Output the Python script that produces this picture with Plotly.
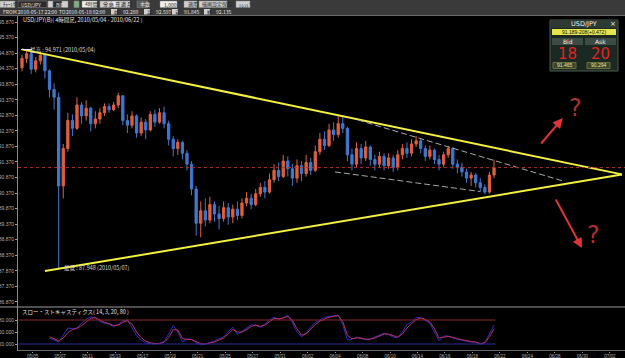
import plotly.graph_objects as go

# ---------------- data ----------------
bars = list(range(104))
opens = [94.40, 94.70, 94.85, 94.35, 94.62, 94.80, 94.30, 93.70, 93.45, 90.60,
         91.80, 92.70, 92.45, 93.20, 92.85, 93.10, 92.60, 92.75, 92.95, 93.15,
         93.05, 93.20, 93.50, 92.70, 92.55, 92.85, 92.30, 92.65, 92.40, 92.90,
         92.65, 92.95, 92.60, 92.10, 91.80, 92.00, 91.65, 91.30, 90.50, 89.40,
         89.80, 89.50, 90.00, 89.70, 89.55, 89.90, 89.60, 89.85, 89.65, 90.05,
         90.20, 90.00, 90.35, 90.55, 90.40, 90.80, 91.10, 90.90, 91.40, 91.15,
         90.85, 91.25, 91.00, 91.35, 91.10, 91.70, 92.10, 91.90, 92.40, 92.25,
         92.60, 92.45, 91.60, 91.30, 91.80, 91.50, 91.85, 91.45, 91.30, 91.55,
         91.25, 91.50, 91.20, 91.60, 91.80, 91.65, 91.95, 92.05, 91.80, 91.55,
         91.75, 91.45, 91.30, 91.60, 91.80, 91.30, 91.20, 91.05, 90.85, 90.95,
         90.70, 90.55, 90.40, 90.95]
highs = [94.82, 94.97, 94.90, 94.75, 94.92, 94.85, 94.35, 93.90, 93.60, 91.95,
         92.95, 92.90, 93.45, 93.30, 93.35, 93.15, 93.00, 93.10, 93.25, 93.25,
         93.30, 93.60, 93.50, 92.90, 93.00, 92.90, 92.80, 92.75, 93.00, 93.05,
         93.10, 93.15, 92.70, 92.20, 92.10, 92.05, 91.75, 91.40, 90.60, 90.10,
         90.20, 90.25, 90.10, 89.95, 90.10, 90.05, 90.00, 90.10, 90.20, 90.40,
         90.35, 90.50, 90.70, 90.75, 91.00, 91.30, 91.35, 91.60, 91.55, 91.30,
         91.45, 91.40, 91.60, 91.50, 91.90, 92.30, 92.35, 92.60, 92.65, 92.85,
         92.85, 92.50, 91.80, 92.00, 91.95, 92.05, 91.90, 91.60, 91.70, 91.65,
         91.65, 91.60, 91.75, 91.95, 92.00, 92.10, 92.20, 92.12, 91.90, 91.90,
         91.80, 91.60, 91.70, 91.88, 91.85, 91.45, 91.35, 91.15, 91.05, 91.00,
         90.85, 90.65, 91.05, 91.45]
lows = [94.28, 94.55, 94.20, 94.25, 94.50, 94.05, 93.45, 93.05, 87.95, 90.20,
        91.70, 92.20, 92.40, 92.60, 92.70, 92.35, 92.45, 92.60, 92.85, 92.95,
        93.00, 93.10, 92.55, 92.30, 92.45, 92.15, 92.20, 92.10, 92.35, 92.50,
        92.60, 92.45, 91.90, 91.55, 91.60, 91.45, 91.10, 90.30, 89.00, 88.95,
        89.30, 89.40, 89.45, 89.20, 89.45, 89.35, 89.40, 89.50, 89.55, 89.95,
        89.85, 89.95, 90.25, 90.20, 90.35, 90.70, 90.75, 90.85, 90.90, 90.60,
        90.70, 90.75, 90.90, 90.95, 91.05, 91.60, 91.75, 91.85, 92.05, 92.15,
        92.30, 91.40, 91.10, 91.20, 91.30, 91.40, 91.25, 91.10, 91.20, 91.10,
        91.15, 91.05, 91.10, 91.45, 91.50, 91.55, 91.85, 91.65, 91.40, 91.45,
        91.30, 91.10, 91.20, 91.50, 91.15, 91.00, 90.90, 90.70, 90.60, 90.55,
        90.40, 90.33, 90.35, 90.85]
closes = [94.70, 94.85, 94.35, 94.62, 94.80, 94.30, 93.70, 93.45, 90.60, 91.80,
          92.70, 92.45, 93.20, 92.85, 93.10, 92.60, 92.75, 92.95, 93.15, 93.05,
          93.20, 93.50, 92.70, 92.55, 92.85, 92.30, 92.65, 92.40, 92.90, 92.65,
          92.95, 92.60, 92.10, 91.80, 92.00, 91.65, 91.30, 90.50, 89.40, 89.80,
          89.50, 90.00, 89.70, 89.55, 89.90, 89.60, 89.85, 89.65, 90.05, 90.20,
          90.00, 90.35, 90.55, 90.40, 90.80, 91.10, 90.90, 91.40, 91.15, 90.85,
          91.25, 91.00, 91.35, 91.10, 91.70, 92.10, 91.90, 92.40, 92.25, 92.60,
          92.45, 91.60, 91.30, 91.80, 91.50, 91.85, 91.45, 91.30, 91.55, 91.25,
          91.50, 91.20, 91.60, 91.80, 91.65, 91.95, 92.05, 91.80, 91.55, 91.75,
          91.45, 91.30, 91.60, 91.80, 91.30, 91.20, 91.05, 90.85, 90.95, 90.70,
          90.55, 90.40, 90.95, 91.19]

stoch_bars = bars[6:]
stoch_k = [35, 30, 25, 42, 60, 58, 60, 72, 82, 88,
           85, 76, 72, 70, 63, 70, 78, 80, 62, 42,
           30, 23, 21, 20, 22, 26, 45, 66, 50, 26,
           33, 32, 23, 18, 20, 23, 27, 33, 38, 50,
           62, 44, 52, 60, 68, 67, 62, 70, 80, 87,
           81, 86, 92, 74, 50, 38, 48, 62, 74, 80,
           86, 89, 90, 92, 68, 30, 32, 37, 34, 30,
           33, 37, 42, 47, 44, 37, 36, 50, 68, 75,
           86, 86, 80, 72, 50, 28, 40, 40, 35, 32,
           30, 27, 25, 25, 19, 24, 45, 67]
stoch_d = [38, 33, 28, 35, 48, 56, 59, 66, 76, 84,
           86, 80, 74, 71, 66, 67, 74, 78, 70, 50,
           36, 27, 23, 21, 21, 24, 36, 56, 55, 34,
           31, 31, 26, 21, 20, 22, 25, 30, 35, 45,
           56, 50, 50, 56, 64, 67, 64, 67, 76, 84,
           83, 85, 89, 79, 58, 42, 45, 56, 69, 77,
           83, 87, 89, 91, 76, 42, 33, 35, 35, 32,
           32, 35, 40, 45, 45, 40, 37, 45, 60, 71,
           81, 85, 82, 75, 58, 35, 37, 39, 37, 33,
           31, 28, 26, 25, 21, 23, 38, 58]
stoch_levels = [80, 20]
stoch_ticks = [80, 50, 20]

price_ticks = [95.87, 95.37, 94.87, 94.37, 93.87, 93.37, 92.87, 92.37, 91.87,
               91.37, 90.87, 90.37, 89.87, 89.37, 88.87, 88.37, 87.87, 87.37, 86.87]
date_labels = ["05/05", "05/07", "05/11", "05/13", "05/17", "05/19", "05/21", "05/25",
               "05/27", "05/31", "06/02", "06/04", "06/08", "06/10", "06/14", "06/16",
               "06/18", "06/22", "06/24", "06/28", "06/30", "07/02"]

current_price = 91.189
trend_upper = ([0, 130.9], [94.99, 90.97])
trend_lower = ([5.0, 130.9], [87.86, 90.97])
dash_upper = ([73.3, 118.0], [92.72, 90.76])
dash_lower = ([68.3, 99.9], [91.05, 90.42])
arrow_up = ((113.0, 91.915), (118.0, 92.78))
arrow_down = ((116.3, 90.21), (122.2, 88.60))
qmarks = [(120.7, 93.10), (124.6, 89.02)]
high_note = (1.2, 94.97, "最高 : 94.971 (2010/05/04)")
low_note = (8.8, 87.95, "最低 : 87.948 (2010/05/07)")

# ---------------- figure ----------------
W, H = 625, 358
def fx(p): return p / W
def fy(p): return 1 - p / H

fig = go.Figure()
fig.add_trace(go.Candlestick(
    x=bars, open=opens, high=highs, low=lows, close=closes,
    increasing=dict(line=dict(color="#e0603c", width=1), fillcolor="#e0603c"),
    decreasing=dict(line=dict(color="#3f78d0", width=1), fillcolor="#3f78d0"),
    whiskerwidth=0, xaxis="x", yaxis="y", showlegend=False, hoverinfo="skip"))

fig.add_trace(go.Scatter(x=trend_upper[0], y=trend_upper[1], mode="lines",
                         line=dict(color="#f4f040", width=2), xaxis="x", yaxis="y", showlegend=False))
fig.add_trace(go.Scatter(x=trend_lower[0], y=trend_lower[1], mode="lines",
                         line=dict(color="#f4f040", width=2), xaxis="x", yaxis="y", showlegend=False))
fig.add_trace(go.Scatter(x=dash_upper[0], y=dash_upper[1], mode="lines",
                         line=dict(color="#a8a8a8", width=1, dash="6px,3px"), xaxis="x", yaxis="y", showlegend=False))
fig.add_trace(go.Scatter(x=dash_lower[0], y=dash_lower[1], mode="lines",
                         line=dict(color="#a8a8a8", width=1, dash="6px,3px"), xaxis="x", yaxis="y", showlegend=False))

fig.add_trace(go.Scatter(x=stoch_bars, y=stoch_k, mode="lines",
                         line=dict(color="#2830c8", width=1), xaxis="x2", yaxis="y2", showlegend=False))
fig.add_trace(go.Scatter(x=stoch_bars, y=stoch_d, mode="lines",
                         line=dict(color="#c03060", width=1), xaxis="x2", yaxis="y2", showlegend=False))

shapes = []
shapes.append(dict(type="rect", xref="paper", yref="paper", x0=0, x1=1, y0=fy(15), y1=1,
                   fillcolor="#3a3a3a", line=dict(width=0), layer="below"))
shapes.append(dict(type="line", xref="paper", yref="paper", x0=0, x1=1, y0=fy(15.5), y1=fy(15.5),
                   line=dict(color="#6a6a6a", width=1)))
shapes.append(dict(type="line", xref="paper", yref="paper", x0=0, x1=1, y0=fy(307), y1=fy(307),
                   line=dict(color="#9a9a9a", width=1)))
shapes.append(dict(type="line", xref="paper", yref="paper", x0=fx(18), x1=1, y0=fy(350.5), y1=fy(350.5),
                   line=dict(color="#6a6a6a", width=1)))
shapes.append(dict(type="line", xref="paper", yref="y", x0=fx(18), x1=1, y0=current_price, y1=current_price,
                   line=dict(color="#b03030", width=1, dash="dot")))
shapes.append(dict(type="line", xref="x2", yref="y2", x0=-0.8, x1=103.3, y0=stoch_levels[0], y1=stoch_levels[0],
                   line=dict(color="#8a2a2a", width=1)))
shapes.append(dict(type="line", xref="x2", yref="y2", x0=-0.8, x1=103.3, y0=stoch_levels[1], y1=stoch_levels[1],
                   line=dict(color="#2a2aa0", width=1)))
shapes.append(dict(type="line", xref="paper", yref="paper", x0=fx(21), x1=fx(32), y0=fy(49.5), y1=fy(49.5),
                   line=dict(color="#e0e0e0", width=1)))

# info box
shapes.append(dict(type="rect", xref="paper", yref="paper", x0=fx(550), x1=fx(618), y0=fy(71), y1=fy(20),
                   fillcolor="#1c2822", line=dict(color="#4c5c52", width=1)))
shapes.append(dict(type="rect", xref="paper", yref="paper", x0=fx(550), x1=fx(618), y0=fy(28), y1=fy(20),
                   fillcolor="#2c3a32", line=dict(width=0)))
shapes.append(dict(type="rect", xref="paper", yref="paper", x0=fx(552), x1=fx(616), y0=fy(35), y1=fy(29),
                   fillcolor="#e4e44c", line=dict(width=0)))
shapes.append(dict(type="rect", xref="paper", yref="paper", x0=fx(552), x1=fx(583), y0=fy(45), y1=fy(38),
                   fillcolor="#3c4c44", line=dict(width=0)))
shapes.append(dict(type="rect", xref="paper", yref="paper", x0=fx(585), x1=fx(616), y0=fy(45), y1=fy(38),
                   fillcolor="#3c4c44", line=dict(width=0)))
shapes.append(dict(type="rect", xref="paper", yref="paper", x0=fx(553), x1=fx(576), y0=fy(68.5), y1=fy(62.5),
                   fillcolor="#3c4424", line=dict(color="#6a7040", width=1)))
shapes.append(dict(type="rect", xref="paper", yref="paper", x0=fx(587), x1=fx(610), y0=fy(68.5), y1=fy(62.5),
                   fillcolor="#3c4424", line=dict(color="#6a7040", width=1)))

btns = [(0, 15, "#cfcfcf"), (18, 47, "#2a2a2a"), (48, 53, "#cfcfcf"), (53, 62, "#2a2a2a"), (62, 68, "#cfcfcf"),
        (74, 79, "#7ab07a"), (82, 97, "#f0f0f0"), (100, 106, "#cfcfcf"), (106, 112, "#cfcfcf"),
        (112, 118, "#f0f0f0"), (118, 124, "#cfcfcf"), (124, 130, "#cfcfcf"), (137, 148, "#5a5a5a"),
        (160, 177, "#f0f0f0"), (184, 197, "#cfcfcf"), (199, 227, "#cfcfcf"), (236, 250, "#cfcfcf")]
for a, b, c in btns:
    shapes.append(dict(type="rect", xref="paper", yref="paper", x0=fx(a), x1=fx(b), y0=fy(7.5), y1=fy(1),
                       fillcolor=c, line=dict(color="#8a8a8a", width=0.5)))
for a, b in [(111, 117), (144, 150), (172, 178), (204, 210)]:
    shapes.append(dict(type="rect", xref="paper", yref="paper", x0=fx(a), x1=fx(b), y0=fy(14.5), y1=fy(9),
                       fillcolor="#cfcfcf", line=dict(width=0)))

annotations = []
def txt(x, y, s, size=6, color="#d0d0d0", xanchor="left", family="Noto Sans CJK JP", xref="paper", yref="paper"):
    annotations.append(dict(x=x, y=y, xref=xref, yref=yref, text=s, showarrow=False, xanchor=xanchor,
                            yanchor="middle", font=dict(size=size, color=color, family=family)))

row1 = [(1, "ﾁｬｰﾄ切", "#202020"), (19, "USD/JPY", "#e0e0e0"), (54, "BID", "#e0e0e0"), (83, "4時間", "#202020"),
        (101, "分", "#202020"), (107, "時", "#202020"), (113, "日", "#202020"), (119, "週", "#202020"),
        (125, "月", "#202020"), (138, "本数", "#e0e0e0"), (162, "1,000", "#202020"), (186, "適用", "#202020"),
        (200, "描画設定保存", "#202020"), (237, "ﾄﾚﾝﾄﾞ", "#202020")]
for x, s, c in row1:
    txt(fx(x), fy(4.3), s, size=5, color=c)
row2 = [(1, "FROM 2010-05-17 22:00", "#e0e0e0"), (57, "TO", "#e0e0e0"), (64, "2010-05-18 02:00", "#e0e0e0"),
        (112, "始", "#202020"), (121, "92.280", "#e0e0e0"), (145, "高", "#202020"), (154, "92.597", "#e0e0e0"),
        (173, "安", "#202020"), (182, "91.845", "#e0e0e0"), (205, "終", "#202020"), (214, "92.135", "#e0e0e0")]
for x, s, c in row2:
    txt(fx(x), fy(11.8), s, size=5, color=c)

txt(fx(21), fy(19.5), "USD/JPY(B)( 4時間足, 2010/05/04 - 2010/06/22 )", size=5.5, color="#e0e0e0")
txt(fx(20), fy(311.5), "スロー・ストキャスティクス( 14, 3, 20, 80 )", size=5.5, color="#e0e0e0")

txt(high_note[0], high_note[1], high_note[2], size=5.5, color="#d8d8d8", xref="x", yref="y")
txt(low_note[0], low_note[1], low_note[2], size=5.5, color="#d8d8d8", xref="x", yref="y")

txt(fx(584), fy(24), "USD/JPY", size=6.5, color="#f0f0f0", xanchor="center", family="DejaVu Sans")
txt(fx(613), fy(24), "×", size=7, color="#f0f0f0", xanchor="center", family="DejaVu Sans")
txt(fx(584), fy(32), "91.189-208(+0.472)", size=5, color="#101010", xanchor="center", family="Liberation Sans")
txt(fx(567.5), fy(41.5), "Bid", size=6, color="#f0f0f0", xanchor="center", family="DejaVu Sans")
txt(fx(600.5), fy(41.5), "Ask", size=6, color="#f0f0f0", xanchor="center", family="DejaVu Sans")
txt(fx(567.5), fy(54), "18", size=15, color="#e02424", xanchor="center", family="DejaVu Sans")
txt(fx(600.5), fy(54), "20", size=15, color="#e02424", xanchor="center", family="DejaVu Sans")
txt(fx(564.5), fy(65.5), "91.465", size=5, color="#e8e8a0", xanchor="center", family="Liberation Sans")
txt(fx(598.5), fy(65.5), "90.294", size=5, color="#e8e8a0", xanchor="center", family="Liberation Sans")

for (tx, ty), (hx, hy) in [arrow_up, arrow_down]:
    annotations.append(dict(x=hx, y=hy, ax=tx, ay=ty, xref="x", yref="y", axref="x", ayref="y",
                            showarrow=True, arrowhead=2, arrowsize=1, arrowwidth=2, arrowcolor="#e03434", text=""))
for qx, qy in qmarks:
    annotations.append(dict(x=qx, y=qy, xref="x", yref="y", text="?", showarrow=False,
                            font=dict(size=24, color="#a83030", family="DejaVu Sans")))

axis_font = dict(size=5, color="#b0b0b0", family="Liberation Sans")
fig.update_layout(
    width=W, height=H, autosize=False,
    margin=dict(l=0, r=0, t=0, b=0),
    paper_bgcolor="#000000", plot_bgcolor="#000000",
    showlegend=False,
    xaxis=dict(domain=[fx(18), 1], range=[-0.873, 131.58], anchor="y", showticklabels=False,
               showgrid=False, zeroline=False, rangeslider=dict(visible=False), ticks=""),
    yaxis=dict(domain=[fy(307), fy(15)], range=[86.706, 96.095], anchor="x", showgrid=False, zeroline=False,
               tickvals=price_ticks, tickformat=".3f", ticks="outside", ticklen=2, tickcolor="#a0a0a0",
               showline=True, linecolor="#8a8a8a", linewidth=1, tickfont=axis_font, automargin=False,
               ticklabelstandoff=0),
    xaxis2=dict(domain=[fx(18), 1], range=[-0.873, 131.58], anchor="y2", showgrid=False, zeroline=False,
                tickmode="array", tickvals=[2.3 + 6 * k for k in range(len(date_labels))], ticktext=date_labels,
                ticks="outside", ticklen=1, tickcolor="#a0a0a0", ticklabelstandoff=0,
                tickfont=dict(size=4.5, color="#b0b0b0", family="Liberation Sans"), automargin=False),
    yaxis2=dict(domain=[fy(350.5), fy(307)], range=[3.75, 112.5], anchor="x2", showgrid=False, zeroline=False,
                tickvals=stoch_ticks, tickformat=".3f", ticks="outside", ticklen=2, tickcolor="#a0a0a0",
                showline=True, linecolor="#8a8a8a", linewidth=1, tickfont=axis_font, automargin=False,
                ticklabelstandoff=0),
    shapes=shapes, annotations=annotations,
)

fig.write_html("out.html")
